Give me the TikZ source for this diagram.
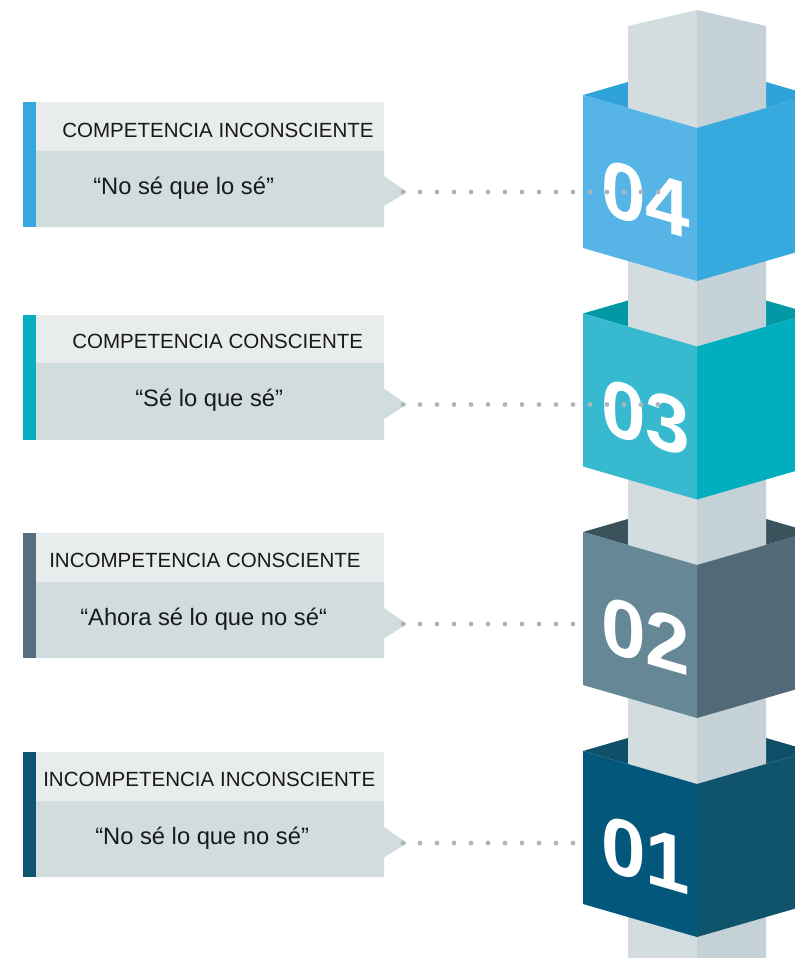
\documentclass[tikz,border=0pt]{standalone}
\usepackage{fontspec}
\setmainfont{Liberation Sans}

\definecolor{hdrgray}{HTML}{E9ECEC}
\definecolor{bodygray}{HTML}{D0DCDE}
\definecolor{dotgray}{HTML}{A9B7BD}
\definecolor{pilleft}{HTML}{D3DDE0}
\definecolor{pilright}{HTML}{C4D1D6}
% cube colours: left face, right face, inside of the top, side bar
\definecolor{ffourL}{HTML}{56B5E6}
\definecolor{ffourR}{HTML}{36A9DF}
\definecolor{ffourT}{HTML}{2FA3D9}
\definecolor{ffourB}{HTML}{35A8DE}
\definecolor{fthreeL}{HTML}{37B9CF}
\definecolor{fthreeR}{HTML}{00AEBE}
\definecolor{fthreeT}{HTML}{0099A5}
\definecolor{fthreeB}{HTML}{05AFC0}
\definecolor{ftwoL}{HTML}{668796}
\definecolor{ftwoR}{HTML}{526977}
\definecolor{ftwoT}{HTML}{3B525C}
\definecolor{ftwoB}{HTML}{566E7D}
\definecolor{foneL}{HTML}{03577A}
\definecolor{foneR}{HTML}{10546B}
\definecolor{foneT}{HTML}{0E5068}
\definecolor{foneB}{HTML}{0F5470}

\begin{document}
\begin{tikzpicture}[
    x=0.75pt, y=-0.75pt,
    head/.style={anchor=base west, inner sep=0pt, font=\fontsize{15.4}{18}\selectfont, text=black!90},
    quote/.style={anchor=base west, inner sep=0pt, font=\fontsize{17.8}{21}\selectfont, text=black!90},
    num/.style={inner sep=0pt, font=\fontsize{60}{60}\selectfont\bfseries, text=white, yslant=-0.29},
    dots/.style={draw=dotgray, line width=3.6pt, line cap=round, dash pattern=on 0pt off 12.75pt}
]
\useasboundingbox (0,0) rectangle (795,958);
\clip (0,0) rectangle (795,958);

% inside of the cube tops (behind the pillar)
\fill[ffourT] (583,95) -- (697,62) -- (811,95) -- (697,128) -- cycle;
\fill[fthreeT] (583,313.5) -- (697,280.5) -- (811,313.5) -- (697,346.5) -- cycle;
\fill[ftwoT] (583,532) -- (697,499) -- (811,532) -- (697,565) -- cycle;
\fill[foneT] (583,751) -- (697,718) -- (811,751) -- (697,784) -- cycle;

% pillar
\fill[pilleft] (628,26) -- (697,10) -- (697,958) -- (628,958) -- cycle;
\fill[pilright] (697,10) -- (766,26) -- (766,958) -- (697,958) -- cycle;

% cube faces
\fill[ffourL] (583,95) -- (697,128) -- (697,281) -- (583,248) -- cycle;
\fill[ffourR] (697,128) -- (811,95) -- (811,248) -- (697,281) -- cycle;
\fill[fthreeL] (583,313.5) -- (697,346.5) -- (697,499.5) -- (583,466.5) -- cycle;
\fill[fthreeR] (697,346.5) -- (811,313.5) -- (811,466.5) -- (697,499.5) -- cycle;
\fill[ftwoL] (583,532) -- (697,565) -- (697,718) -- (583,685) -- cycle;
\fill[ftwoR] (697,565) -- (811,532) -- (811,685) -- (697,718) -- cycle;
\fill[foneL] (583,751) -- (697,784) -- (697,937) -- (583,904) -- cycle;
\fill[foneR] (697,784) -- (811,751) -- (811,904) -- (697,937) -- cycle;

\node[num] (n4) at (646,199) {04};
\node[num] (n3) at (646,417.5) {03};
\node[num] (n2) at (646,636) {02};
\node[num] (n1) at (646,855) {01};

% cards
\fill[hdrgray] (36,101.5) rectangle (384,151);
\fill[bodygray] (36,151) -- (384,151) -- (384,176) -- (407,192) -- (384,206) -- (384,227) -- (36,227) -- cycle;
\fill[ffourB] (23,101.5) rectangle (36,227);
\node[head] (h4) at (62,137.5) {COMPETENCIA INCONSCIENTE};
\node[quote] (q4) at (93,194) {“No sé que lo sé”};

\fill[hdrgray] (36,314.5) rectangle (384,363);
\fill[bodygray] (36,363) -- (384,363) -- (384,388.5) -- (407,404.5) -- (384,419) -- (384,440) -- (36,440) -- cycle;
\fill[fthreeB] (23,314.5) rectangle (36,440);
\node[head] (h3) at (72,348.5) {COMPETENCIA CONSCIENTE};
\node[quote] (q3) at (135,406) {“Sé lo que sé”};

\fill[hdrgray] (36,533) rectangle (384,582);
\fill[bodygray] (36,582) -- (384,582) -- (384,608) -- (407,624) -- (384,638.5) -- (384,658) -- (36,658) -- cycle;
\fill[ftwoB] (23,533) rectangle (36,658);
\node[head] (h2) at (49,567) {INCOMPETENCIA CONSCIENTE};
\node[quote] (q2) at (80,625.5) {“Ahora sé lo que no sé“};

\fill[hdrgray] (36,752) rectangle (384,801);
\fill[bodygray] (36,801) -- (384,801) -- (384,827) -- (407,843) -- (384,857.5) -- (384,877) -- (36,877) -- cycle;
\fill[foneB] (23,752) rectangle (36,877);
\node[head] (h1) at (43,786) {INCOMPETENCIA INCONSCIENTE};
\node[quote] (q1) at (95,844) {“No sé lo que no sé”};

% dotted leaders
\coordinate (t4) at (403,192);
\coordinate (e4) at (660,192);
\coordinate (t3) at (403,404.5);
\coordinate (e3) at (660,404.5);
\coordinate (t2) at (403,624);
\coordinate (e2) at (575,624);
\coordinate (t1) at (403,843);
\coordinate (e1) at (575,843);
\draw[dots] (t4) -- (e4);
\draw[dots] (t3) -- (e3);
\draw[dots] (t2) -- (e2);
\draw[dots] (t1) -- (e1);
\end{tikzpicture}
\end{document}
